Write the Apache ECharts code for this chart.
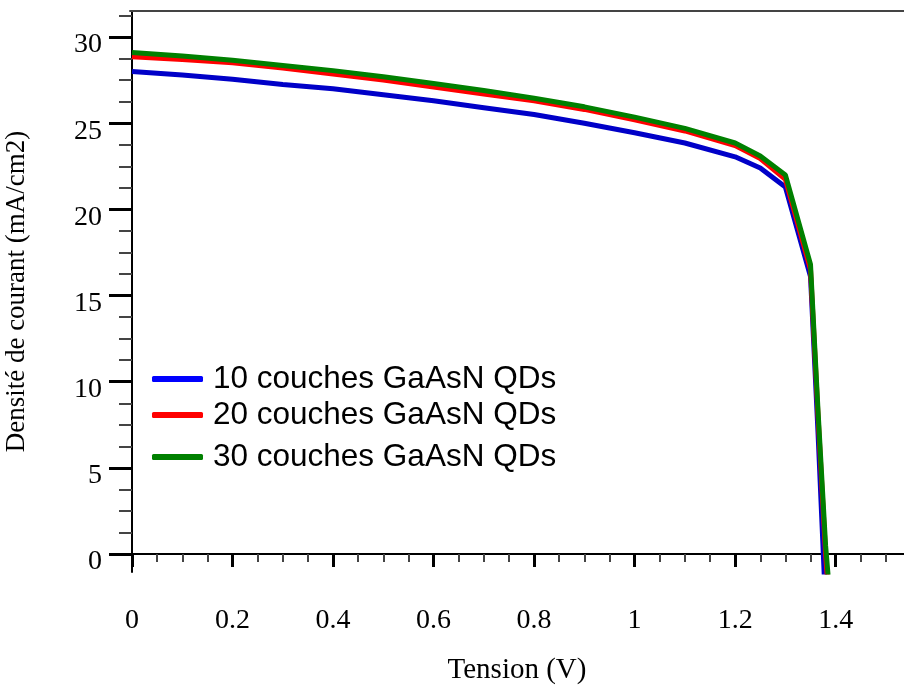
<html lang="fr">
<head>
<meta charset="utf-8">
<title>Densité de courant - Tension</title>
<script src="https://cdn.jsdelivr.net/npm/echarts@6/dist/echarts.min.js"></script>
<style>
	html, body { margin: 0; padding: 0; background: #fff; }
	#chart { width: 904px; height: 688px; }
</style>
</head>
<body>
<div id="chart"></div>
<script>
	// tension (V)
	var voltage = [0, 0.1, 0.2, 0.3, 0.4, 0.5, 0.6, 0.7, 0.8, 0.9, 1.0, 1.1, 1.2, 1.25, 1.3, 1.35, 1.365, 1.38, 1.39];
	// densité de courant (mA/cm2)
	var j10 = [28.0, 27.8, 27.55, 27.25, 27.0, 26.65, 26.3, 25.9, 25.5, 25.0, 24.45, 23.85, 23.05, 22.4, 21.3, 16.1, 7.0, -3.0, -8.0];
	var j20 = [28.85, 28.7, 28.5, 28.2, 27.85, 27.5, 27.1, 26.7, 26.3, 25.8, 25.2, 24.55, 23.7, 22.95, 21.75, 16.5, 8.0, 0.0, -4.0];
	var j30 = [29.1, 28.9, 28.65, 28.35, 28.05, 27.7, 27.3, 26.9, 26.45, 25.95, 25.35, 24.7, 23.85, 23.1, 22.0, 16.8, 8.3, 0.5, -3.0];
	var names = ['10 couches GaAsN QDs', '20 couches GaAsN QDs', '30 couches GaAsN QDs'];

	var xTicks = [0, 0.2, 0.4, 0.6, 0.8, 1, 1.2, 1.4];
	var xMinor = [0.05, 0.1, 0.15, 0.25, 0.3, 0.35, 0.45, 0.5, 0.55, 0.65, 0.7, 0.75, 0.85, 0.9, 0.95,
		1.05, 1.1, 1.15, 1.25, 1.3, 1.35, 1.45, 1.5];
	var yTicks = [0, 5, 10, 15, 20, 25, 30];
	var yMinor = [1.25, 2.5, 3.75, 6.25, 7.5, 8.75, 11.25, 12.5, 13.75, 16.25, 17.5, 18.75,
		21.25, 22.5, 23.75, 26.25, 27.5, 28.75, 31.25];

	function pairs(ys) {
		var out = [];
		for (var i = 0; i < voltage.length; i++) {
			out.push([voltage[i], ys[i]]);
		}
		return out;
	}

	var X_MIN = -0.004, X_MAX = 1.536, Y_MIN = -1.04, Y_MAX = 31.51;
	var serif = 'Liberation Serif';

	var chart = echarts.init(document.getElementById('chart'), null, { renderer: 'canvas' });

	// one legend per row, the rows are not evenly spaced in the original
	function legendAt(top, name, color, pad) {
		return {
			top: top, left: 152, padding: 0,
			itemWidth: 51, itemHeight: 6,
			data: [{ name: name, icon: 'roundRect', itemStyle: { color: color } }],
			textStyle: { fontFamily: 'Liberation Sans', fontSize: 31.5, color: '#000', padding: pad },
			selectedMode: false
		};
	}

	chart.setOption({
		animation: false,
		backgroundColor: '#fff',
		grid: { left: 130, top: 11, right: 0, bottom: 116, outerBoundsMode: 'none', containLabel: false },
		legend: [
			legendAt(363, names[0], '#0000ff', [4, 0, 0, 5]),
			legendAt(399, names[1], '#ff0000', [0, 0, 14, 5]),
			legendAt(441, names[2], '#008000', [0, 0, 6, 5])
		],
		xAxis: [{
			type: 'value', min: X_MIN, max: X_MAX,
			name: 'Tension (V)', nameLocation: 'middle', nameGap: 84,
			nameTextStyle: { fontFamily: serif, fontSize: 29, color: '#000' },
			axisLine: { show: true, lineStyle: { color: '#000', width: 2 } },
			axisTick: { show: true, customValues: xTicks, length: 13, lineStyle: { color: '#000', width: 3 } },
			axisLabel: {
				customValues: xTicks, margin: 35, fontFamily: serif, fontSize: 28, color: '#000',
				formatter: function (v) { return String(+v.toFixed(1)); }
			},
			splitLine: { show: false }
		}, {
			type: 'value', min: X_MIN, max: X_MAX, position: 'bottom',
			axisLine: { show: false },
			axisTick: { show: true, customValues: xMinor, length: 8, lineStyle: { color: '#444', width: 2 } },
			axisLabel: { show: false },
			splitLine: { show: false }
		}, {
			type: 'value', min: X_MIN, max: X_MAX, position: 'top',
			axisLine: { show: true, lineStyle: { color: '#444', width: 2 } },
			axisTick: { show: false },
			axisLabel: { show: false },
			splitLine: { show: false }
		}],
		yAxis: [{
			type: 'value', min: Y_MIN, max: Y_MAX,
			name: 'Densité de courant (mA/cm2)', nameLocation: 'middle', nameGap: 100,
			nameTextStyle: { fontFamily: serif, fontSize: 27, color: '#000' },
			axisLine: { show: true, lineStyle: { color: '#000', width: 2 } },
			axisTick: { show: true, customValues: yTicks, length: 23, lineStyle: { color: '#000', width: 3 } },
			axisLabel: {
				customValues: yTicks, margin: 28, fontFamily: serif, fontSize: 28, color: '#000',
				verticalAlign: 'top', lineHeight: 16
			},
			splitLine: { show: false }
		}, {
			type: 'value', min: Y_MIN, max: Y_MAX, position: 'left',
			axisLine: { show: false },
			axisTick: { show: true, customValues: yMinor, length: 13, lineStyle: { color: '#444', width: 2 } },
			axisLabel: { show: false },
			splitLine: { show: false }
		}],
		series: [{
			name: names[0], type: 'line', data: pairs(j10), symbol: 'none',
			lineStyle: { color: '#0000c8', width: 5 }, itemStyle: { color: '#0000c8' }
		}, {
			name: names[1], type: 'line', data: pairs(j20), symbol: 'none',
			lineStyle: { color: '#ff0000', width: 5 }, itemStyle: { color: '#ff0000' }
		}, {
			name: names[2], type: 'line', data: pairs(j30), symbol: 'none',
			lineStyle: { color: '#008000', width: 5 }, itemStyle: { color: '#008000' }
		}]
	});
</script>
</body>
</html>
